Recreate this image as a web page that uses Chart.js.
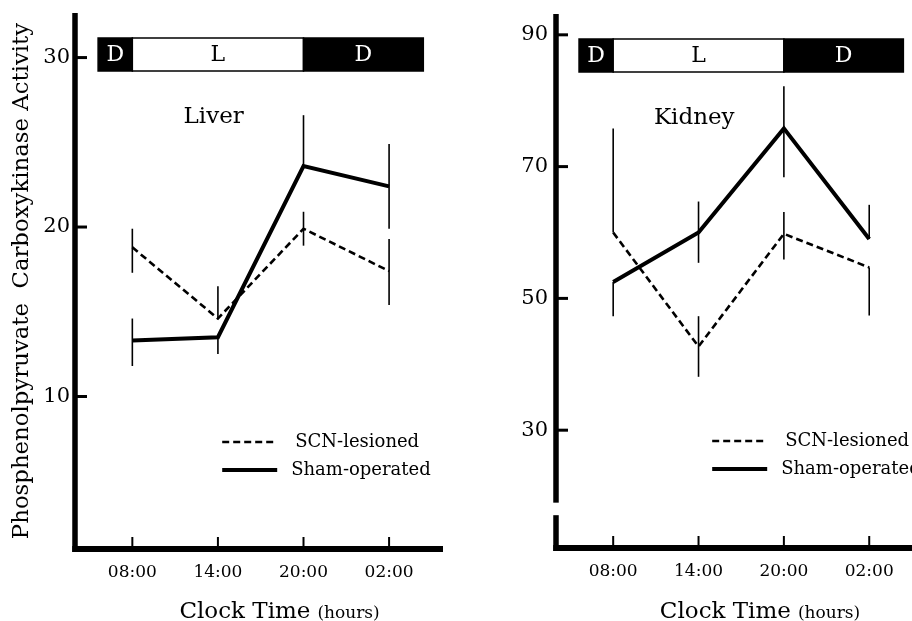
<!DOCTYPE html>
<html>
<head>
<meta charset="utf-8">
<script src="https://cdn.jsdelivr.net/npm/chart.js@4.4.1/dist/chart.umd.min.js"></script>
<style>
  html, body { margin: 0; padding: 0; background: #fff; overflow: hidden; }
  body { width: 912px; height: 621px; position: relative; }
  canvas { position: absolute; top: 0; }
  #liverChart { left: 0; }
  #kidneyChart { left: 456px; }
</style>
</head>
<body>
<canvas id="liverChart" width="456" height="621"></canvas>
<canvas id="kidneyChart" width="480" height="621"></canvas>
<script>
;(function() {

  // x categories and series names
  const clockTimes = ['08:00', '14:00', '20:00', '02:00'];
  const seriesNames = ['SCN-lesioned', 'Sham-operated'];

  // light / dark bar above each panel
  const phaseLabels = ['D', 'L', 'D'];
  const phaseStart = [-0.4, 0, 2];
  const phaseEnd = [0, 2, 3.4];

  // liver
  const liverTicks = [10, 20, 30];
  const liverScn = [18.8, 14.6, 19.9, 17.4];
  const liverScnErrUp = [1.1, 1.9, 1.0, 1.9];
  const liverScnErrDown = [1.5, 0, 1.0, 2.0];
  const liverSham = [13.3, 13.5, 23.6, 22.4];
  const liverShamErrUp = [1.3, 0, 3.0, 2.5];
  const liverShamErrDown = [1.5, 1.0, 0, 2.5];

  // kidney
  const kidneyTicks = [30, 50, 70, 90];
  const kidneyScn = [60, 42.7, 59.8, 54.7];
  const kidneyScnErrUp = [15.8, 4.6, 3.3, 0];
  const kidneyScnErrDown = [0, 4.6, 3.9, 7.3];
  const kidneySham = [52.5, 60, 75.8, 59];
  const kidneyShamErrUp = [0, 4.7, 6.4, 5.2];
  const kidneyShamErrDown = [5.2, 4.6, 7.4, 0];

  const FONT = "'DejaVu Serif', 'Liberation Serif', serif";

  const panelDecor = {
    id: 'panelDecor',
    afterDraw(chart, args, opts) {
      const ctx = chart.ctx;
      const area = chart.chartArea;
      const xs = chart.scales.x;
      const ys = chart.scales.y;
      ctx.save();
      ctx.setLineDash([]);
      ctx.strokeStyle = '#000';
      ctx.fillStyle = '#000';

      // error bars
      chart.data.datasets.forEach(ds => {
        ctx.lineWidth = 1.6;
        ds.data.forEach((p, j) => {
          const x = xs.getPixelForValue(p.x);
          const top = ys.getPixelForValue(p.y + ds.errUp[j]);
          const bot = ys.getPixelForValue(p.y - ds.errDown[j]);
          ctx.beginPath();
          ctx.moveTo(x, top);
          ctx.lineTo(x, bot);
          ctx.stroke();
        });
      });

      // axes lines
      ctx.lineWidth = 5.5;
      ctx.beginPath();
      ctx.moveTo(area.left, area.top);
      ctx.lineTo(area.left, area.bottom + 3);
      ctx.stroke();
      ctx.lineWidth = 6;
      ctx.beginPath();
      ctx.moveTo(area.left - 2.75, area.bottom);
      ctx.lineTo(area.right, area.bottom);
      ctx.stroke();

      // inward ticks
      ctx.lineWidth = 3;
      ys.ticks.forEach(t => {
        const y = ys.getPixelForValue(t.value);
        ctx.beginPath();
        ctx.moveTo(area.left, y);
        ctx.lineTo(area.left + 12, y);
        ctx.stroke();
      });
      ctx.lineWidth = 2;
      xs.ticks.forEach(t => {
        const x = xs.getPixelForValue(t.value);
        ctx.beginPath();
        ctx.moveTo(x, area.bottom);
        ctx.lineTo(x, area.bottom - 12);
        ctx.stroke();
      });

      // axis break
      if (opts.breakFrom != null) {
        const y0 = ys.getPixelForValue(opts.breakTo);
        const y1 = ys.getPixelForValue(opts.breakFrom);
        ctx.fillStyle = '#fff';
        ctx.fillRect(area.left - 5, y0, 10, y1 - y0);
        ctx.fillStyle = '#000';
      }

      // D / L bar
      const barTop = area.top + 25;
      const barH = 33;
      ctx.lineWidth = 1.5;
      ctx.font = '22px ' + FONT;
      ctx.textAlign = 'center';
      ctx.textBaseline = 'middle';
      phaseLabels.forEach((lab, i) => {
        const x0 = xs.getPixelForValue(phaseStart[i]);
        const x1 = xs.getPixelForValue(phaseEnd[i]);
        const dark = lab === 'D';
        ctx.fillStyle = dark ? '#000' : '#fff';
        ctx.fillRect(x0, barTop, x1 - x0, barH);
        ctx.strokeStyle = '#000';
        ctx.strokeRect(x0, barTop, x1 - x0, barH);
        ctx.fillStyle = dark ? '#fff' : '#000';
        ctx.fillText(lab, (x0 + x1) / 2, barTop + barH / 2 + 1);
      });

      // panel name
      ctx.fillStyle = '#000';
      ctx.font = '23px ' + FONT;
      ctx.fillText(opts.name, xs.getPixelForValue(0.95), area.top + 104);

      // legend
      ctx.font = '18px ' + FONT;
      ctx.textAlign = 'left';
      const lx = xs.getPixelForValue(opts.legendX);
      chart.data.datasets.forEach((ds, i) => {
        const y = area.bottom - 107 + i * 28;
        ctx.lineWidth = ds.borderWidth;
        ctx.setLineDash(ds.borderDash || []);
        ctx.beginPath();
        ctx.moveTo(lx, y);
        ctx.lineTo(lx + 55, y);
        ctx.stroke();
        ctx.setLineDash([]);
        ctx.fillText(ds.label, lx + 73 - i * 4, y);
      });

      // x axis title, two sizes
      const big = 'Clock Time';
      const small = '(hours)';
      ctx.textBaseline = 'alphabetic';
      ctx.font = '23px ' + FONT;
      const wBig = ctx.measureText(big).width;
      ctx.font = '17px ' + FONT;
      const wSmall = ctx.measureText(small).width;
      const cx = xs.getPixelForValue(1.72);
      const tx = cx - (wBig + 7 + wSmall) / 2;
      ctx.font = '23px ' + FONT;
      ctx.fillText(big, tx, chart.height - 3);
      ctx.font = '17px ' + FONT;
      ctx.fillText(small, tx + wBig + 7, chart.height - 3);

      // y axis title
      if (opts.yTitle) {
        ctx.save();
        ctx.translate(22, (area.top + area.bottom) / 2);
        ctx.rotate(-Math.PI / 2);
        ctx.font = '22.8px ' + FONT;
        ctx.textAlign = 'center';
        ctx.textBaseline = 'middle';
        ctx.fillText(opts.yTitle, 0, 0);
        ctx.restore();
      }
      ctx.restore();
    }
  };

  function toPoints(values) {
    return values.map((v, i) => ({ x: i, y: v }));
  }

  function buildPanel(canvasId, p) {
    const ctx = document.getElementById(canvasId).getContext('2d');
    return new Chart(ctx, {
      type: 'line',
      data: {
        datasets: [
          {
            label: seriesNames[0],
            data: toPoints(p.scn),
            errUp: p.scnErrUp,
            errDown: p.scnErrDown,
            borderColor: '#000',
            borderWidth: 2.6,
            borderDash: [7, 4],
            pointRadius: 0,
            tension: 0
          },
          {
            label: seriesNames[1],
            data: toPoints(p.sham),
            errUp: p.shamErrUp,
            errDown: p.shamErrDown,
            borderColor: '#000',
            borderWidth: 4,
            pointRadius: 0,
            tension: 0
          }
        ]
      },
      options: {
        responsive: false,
        animation: false,
        devicePixelRatio: 1,
        layout: { padding: { top: p.padTop, right: p.padRight, left: 0, bottom: 0 } },
        plugins: {
          legend: { display: false },
          tooltip: { enabled: false },
          panelDecor: p.decor
        },
        scales: {
          x: {
            type: 'linear',
            min: -0.67,
            max: 3.63,
            grid: { display: false, drawTicks: false },
            border: { display: false },
            afterBuildTicks: s => { s.ticks = clockTimes.map((_, i) => ({ value: i })); },
            afterFit: s => {
              s.height = p.xHeight;
              s.paddingLeft = 0;
              s.paddingRight = 0;
            },
            ticks: {
              padding: 13,
              color: '#000',
              font: { family: FONT, size: 17 },
              callback: v => clockTimes[v]
            }
          },
          y: {
            min: p.yMin,
            max: p.yMax,
            grid: { display: false, drawTicks: false },
            border: { display: false },
            afterBuildTicks: s => { s.ticks = p.ticks.map(v => ({ value: v })); },
            afterFit: s => {
              s.width = p.yWidth;
              s.paddingTop = 0;
              s.paddingBottom = 0;
            },
            ticks: {
              padding: p.yPad,
              color: '#000',
              font: { family: FONT, size: 21 }
            }
          }
        }
      },
      plugins: [panelDecor]
    });
  }

  buildPanel('liverChart', {
    scn: liverScn, scnErrUp: liverScnErrUp, scnErrDown: liverScnErrDown,
    sham: liverSham, shamErrUp: liverShamErrUp, shamErrDown: liverShamErrDown,
    ticks: liverTicks, yMin: 1.0, yMax: 32.63,
    yWidth: 75, xHeight: 72, padTop: 13, padRight: 13, yPad: 5,
    decor: {
      name: 'Liver',
      legendX: 1.05,
      yTitle: 'Phosphenolpyruvate  Carboxykinase Activity'
    }
  });

  buildPanel('kidneyChart', {
    scn: kidneyScn, scnErrUp: kidneyScnErrUp, scnErrDown: kidneyScnErrDown,
    sham: kidneySham, shamErrUp: kidneyShamErrUp, shamErrDown: kidneyShamErrDown,
    ticks: kidneyTicks, yMin: 12.12, yMax: 93.16,
    yWidth: 100, xHeight: 73, padTop: 14, padRight: 13, yPad: 8,
    decor: {
      name: 'Kidney',
      legendX: 1.16,
      breakFrom: 17.1,
      breakTo: 19.0
    }
  });
})();
</script>
</body>
</html>
